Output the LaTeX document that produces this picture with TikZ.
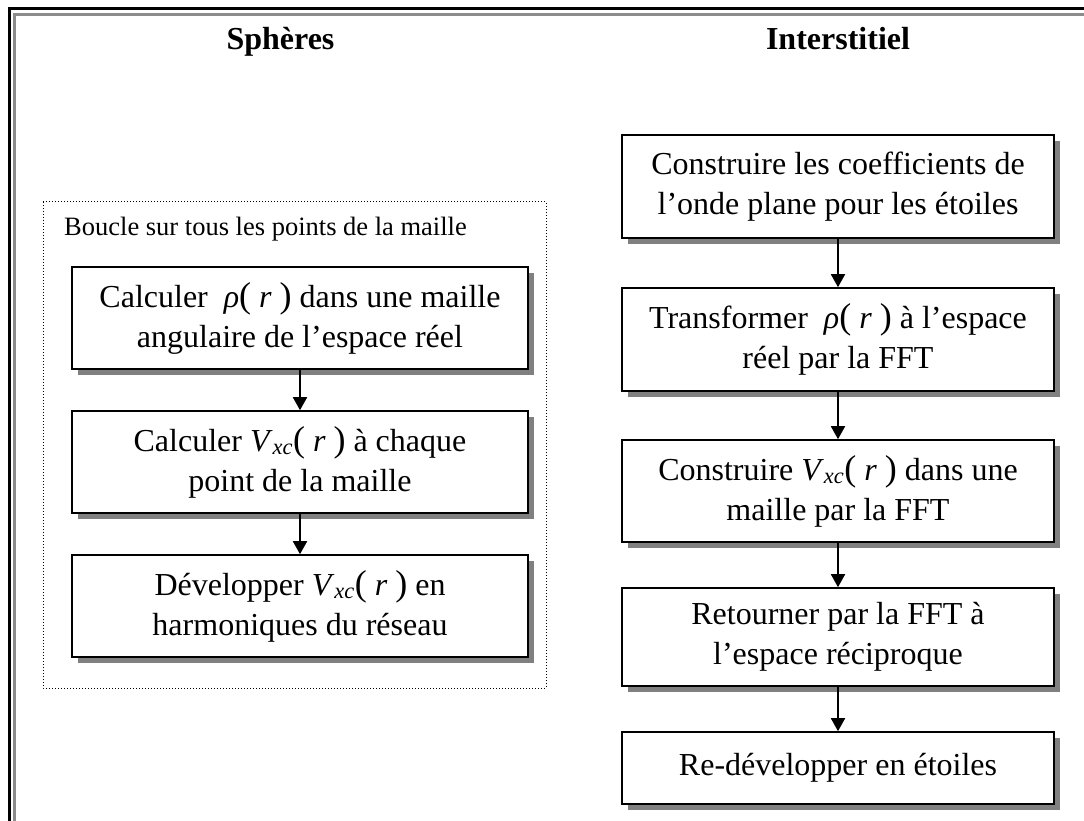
\documentclass[tikz,border=0pt]{standalone}
\usepackage{fontspec}
\setmainfont{Liberation Serif}
\usepackage{tikz}
\usetikzlibrary{arrows.meta,shadows}

\newcommand{\grandpar}[1]{{\fontsize{36}{40}\selectfont #1}}
\newcommand{\rhor}{\textit{ρ}\grandpar{(}\ \textit{r}\ \grandpar{)}}
\newcommand{\vxcr}{\textit{V}\textsubscript{\textit{xc}}\grandpar{(}\ \textit{r}\ \grandpar{)}}

\begin{document}
\begin{tikzpicture}[x=1pt,y=-1pt,
		etape/.style={draw,line width=1.6pt,fill=white,minimum width=456pt,minimum height=102pt,inner sep=0pt,align=center,
			font=\fontsize{32}{40}\selectfont,
			drop shadow={shadow xshift=6pt,shadow yshift=-6pt,fill=black!50,opacity=1}},
		etapeD/.style={etape,minimum width=432pt},
		fleche/.style={line width=1.8pt,-{Triangle[width=14pt,length=13pt]}},
		titre/.style={font=\fontsize{32}{38}\selectfont\bfseries}]
			\useasboundingbox (0,0) rectangle (1084,821);
			
			\draw[line width=3pt] (9,821)--(9,9)--(1084,9);
			\draw[line width=3pt,black!45] (14.5,821)--(14.5,14.5)--(1084,14.5);
			
			\node [titre,anchor=base west] (spheres) at (223,50) {Sphères};
			\node [titre,anchor=base] (inter) at (838,50) {Interstitiel};
			
			\draw[dotted,line width=1pt] (43,202) rectangle (546,688);
			\node [anchor=base west,inner sep=0pt,font=\fontsize{26.5}{30}\selectfont] (boucle) at (64,236) {Boucle sur tous les points de la maille};
			
			\node [etape] (calcRho) at (300,318) {Calculer \ \rhor\ dans une maille\\angulaire de l’espace réel};
			\node [etape] (calcVxc) at (300,462) {Calculer \vxcr\ à chaque\\point de la maille};
			\node [etape] (devVxc) at (300,606) {Développer \vxcr\ en\\harmoniques du réseau};
			
			\node [etapeD,minimum height=103pt] (constCoef) at (838,186.5) {Construire les coefficients de\\l’onde plane pour les étoiles};
			\node [etapeD,minimum height=103pt] (transRho) at (838,339.5) {Transformer \ \rhor\ à l’espace\\réel par la FFT};
			\node [etapeD] (constVxc) at (838,491) {Construire \vxcr\ dans une\\maille par la FFT};
			\node [etapeD,minimum height=98pt] (retFFT) at (838,637) {Retourner par la FFT à\\l’espace réciproque};
			\node [etapeD,minimum height=72pt] (redev) at (838,768) {Re-développer en étoiles};
			
			\draw[fleche] (calcRho)--(calcVxc);
			\draw[fleche] (calcVxc)--(devVxc);
			\draw[fleche] (constCoef)--(transRho);
			\draw[fleche] (transRho)--(constVxc);
			\draw[fleche] (constVxc)--(retFFT);
			\draw[fleche] (retFFT)--(redev);
		\end{tikzpicture}
\end{document}
